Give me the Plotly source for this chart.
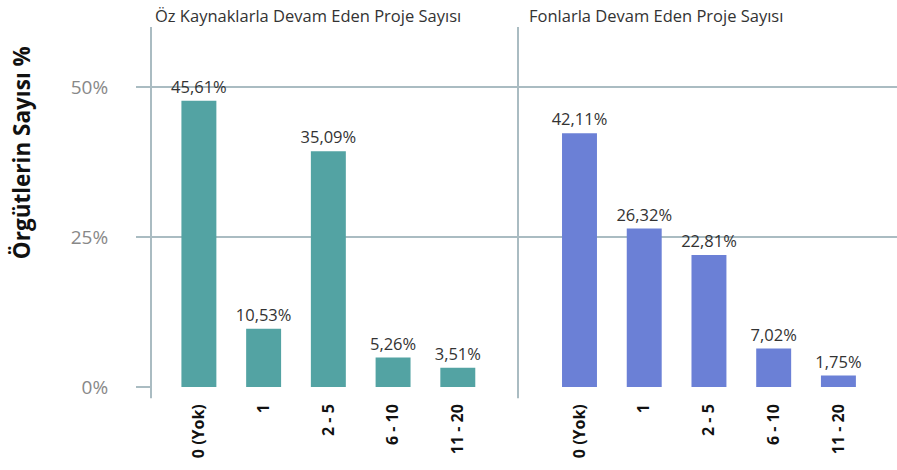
import plotly.graph_objects as go

categories = ["0 (Yok)", "1", "2 - 5", "6 - 10", "11 - 20"]
panel_titles = ["Öz Kaynaklarla Devam Eden Proje Sayısı", "Fonlarla Devam Eden Proje Sayısı"]

# bar heights as drawn in the picture (%)
own_heights = [47.7, 9.7, 39.3, 4.9, 3.2]
fund_heights = [42.3, 26.4, 22.0, 6.4, 1.9]
# labels printed above the bars
own_labels = ["45,61%", "10,53%", "35,09%", "5,26%", "3,51%"]
fund_labels = ["42,11%", "26,32%", "22,81%", "7,02%", "1,75%"]

y_ticks = [0, 25, 50]
y_tick_text = ["0%", "25%", "50%"]
y_title = "Örgütlerin Sayısı %"

FONT = "Open Sans"
GRID = "#aabcc2"
split = 367 / 746

fig = go.Figure()
for heights, labels, xa, color in [
    (own_heights, own_labels, "x", "#53a3a3"),
    (fund_heights, fund_labels, "x2", "#6b80d6"),
]:
    fig.add_trace(go.Bar(
        x=categories, y=heights, text=labels, xaxis=xa, yaxis="y",
        marker=dict(color=color, line=dict(width=0)), width=0.54,
        textposition="outside", cliponaxis=False, constraintext="none",
        textfont=dict(family=FONT, size=16.5, color="#333333"), showlegend=False,
    ))

xaxis_common = dict(
    type="category", showgrid=False, zeroline=False, showline=False, ticks="",
    tickangle=-90, ticklabelstandoff=13,
    tickfont=dict(family=FONT, size=16, color="#111111", weight="bold"),
)
fig.update_layout(
    width=897, height=470,
    margin=dict(l=151, r=0, t=27, b=83),
    paper_bgcolor="white", plot_bgcolor="white",
    xaxis=dict(domain=[0, split], range=[-0.74, 4.93], anchor="y", **xaxis_common),
    xaxis2=dict(domain=[split, 1], range=[-0.95, 4.905], anchor="y", **xaxis_common),
    yaxis=dict(
        range=[0, 60], tickvals=y_ticks, ticktext=y_tick_text,
        showgrid=True, gridcolor=GRID, gridwidth=2, zeroline=False, showline=False,
        ticks="outside", ticklen=14, tickwidth=2, tickcolor=GRID, ticklabelstandoff=24,
        tickfont=dict(family=FONT, size=19, color="#888888"),
        anchor="x",
    ),
    font=dict(family=FONT),
)

# panel separator lines
for xp in [0, split]:
    fig.add_shape(type="line", xref="paper", yref="paper", x0=xp, x1=xp,
                  y0=-0.031, y1=1, line=dict(color=GRID, width=2), layer="below")

fig.add_annotation(text=panel_titles[0], xref="paper", yref="paper", x=0.003, y=1.031,
                   xanchor="left", yanchor="middle", showarrow=False,
                   font=dict(family=FONT, size=16.5, color="#333333"))
fig.add_annotation(text=panel_titles[1], xref="paper", yref="paper", x=0.504, y=1.031,
                   xanchor="left", yanchor="middle", showarrow=False,
                   font=dict(family=FONT, size=16.5, color="#333333"))
fig.add_annotation(text=y_title, xref="paper", yref="paper", x=-0.174, y=0.65,
                   xanchor="center", yanchor="middle", textangle=-90, showarrow=False,
                   font=dict(family=FONT, size=22.5, color="#111111", weight="bold"))

fig.write_html(
    "out.html",
    config={"displayModeBar": False},
    post_script="document.body.style.margin='0px';document.body.style.overflow='hidden';",
)
